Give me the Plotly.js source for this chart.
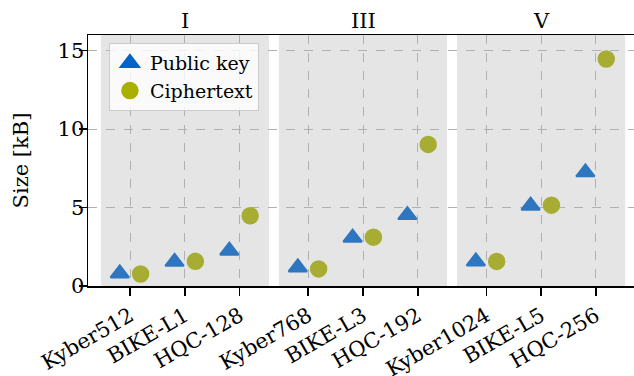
<!DOCTYPE html>
<html><head><meta charset="utf-8">
<script src="https://cdn.plot.ly/plotly-3.0.1.min.js"></script>
<style>html,body{margin:0;padding:0;overflow:hidden;background:#fff;}</style>
</head><body><div id="chart" style="width:640px;height:376px;"></div>
<script>
const categories = ["Kyber512","BIKE-L1","HQC-128","Kyber768","BIKE-L3","HQC-192","Kyber1024","BIKE-L5","HQC-256"];
const securityLevels = ["I","III","V"];
const seriesNames = ["Public key","Ciphertext"];
const publicKey = [0.800,1.541,2.249,1.184,3.083,4.522,1.568,5.122,7.245];
const ciphertext = [0.768,1.573,4.481,1.088,3.115,9.026,1.568,5.154,14.469];
const yTicks = [0,5,10,15];

// layout helpers
const perGroup = 3, groupGap = 0.25, off = 0.19, bandHalf = 1.535;
const pos = categories.map((c,i)=> i + groupGap*Math.floor(i/perGroup));
const groupCenters = securityLevels.map((g,k)=> (pos[k*perGroup] + pos[k*perGroup+perGroup-1])/2);

const serif = "DejaVu Serif, Liberation Serif, serif";
const blue = "#2f76c0", blueLeg = "#0064c8";
const olive = "#a7ad33", oliveLeg = "#a8b000";
const fs = 21;

const traces = [
  {x: pos.map(p=>p-off), y: publicKey, type:'scatter', mode:'markers', showlegend:false, hoverinfo:'skip',
   marker:{symbol:'triangle-up', size:16, color:blue, line:{color:blue, width:2}}},
  {x: pos.map(p=>p+off), y: ciphertext, type:'scatter', mode:'markers', showlegend:false, hoverinfo:'skip',
   marker:{symbol:'circle', size:16, color:olive, line:{color:olive, width:1.5}}},
  {x:[null], y:[null], type:'scatter', mode:'markers', name:seriesNames[0],
   marker:{symbol:'triangle-up', size:16, color:blueLeg, line:{color:blueLeg, width:2}}},
  {x:[null], y:[null], type:'scatter', mode:'markers', name:seriesNames[1],
   marker:{symbol:'circle', size:16, color:oliveLeg, line:{color:oliveLeg, width:1.5}}}
];

const shapes = groupCenters.map(c=>({type:'rect', xref:'x', yref:'paper', x0:c-bandHalf, x1:c+bandHalf, y0:0, y1:1,
  fillcolor:'#e5e5e5', line:{width:0}, layer:'below'}));

const annotations = securityLevels.map((g,k)=>({text:g, x:groupCenters[k], xref:'x', y:1, yref:'paper',
  yanchor:'bottom', xanchor:'center', showarrow:false, yshift:0, font:{family:serif, size:fs, color:'#000'}}));

const layout = {
  width:640, height:376,
  margin:{l:88, r:2, t:35, b:90},
  paper_bgcolor:'#fff', plot_bgcolor:'#fff',
  font:{family:serif, size:fs, color:'#000'},
  showlegend:true,
  legend:{x:0.038, y:0.968, xanchor:'left', yanchor:'top', bgcolor:'rgba(255,255,255,0.8)',
    bordercolor:'#cccccc', borderwidth:1, font:{family:serif, size:19}, itemsizing:'trace', tracegroupgap:0},
  xaxis:{range:[-0.77, 9.27], tickvals:pos, ticktext:categories, tickangle:-30,
    ticks:'outside', ticklen:8, tickwidth:1.5, tickcolor:'#000',
    showline:true, linecolor:'#000', linewidth:1.5, mirror:true,
    showgrid:true, gridcolor:'#b0b0b0', griddash:'dash', gridwidth:1, zeroline:false,
    tickfont:{family:serif, size:fs}},
  yaxis:{range:[0,16], tickvals:yTicks, ticks:'outside', ticklen:8, tickwidth:1.5, tickcolor:'#000',
    showline:true, linecolor:'#000', linewidth:1.5, mirror:true, ticklabelstandoff:-10,
    showgrid:true, gridcolor:'#b0b0b0', griddash:'dash', gridwidth:1, zeroline:false,
    tickfont:{family:serif, size:fs},
    title:{text:'Size [kB]', standoff:23, font:{family:serif, size:fs}}},
  shapes:shapes, annotations:annotations
};
Plotly.newPlot('chart', traces, layout, {staticPlot:true, displayModeBar:false});
</script></body></html>
